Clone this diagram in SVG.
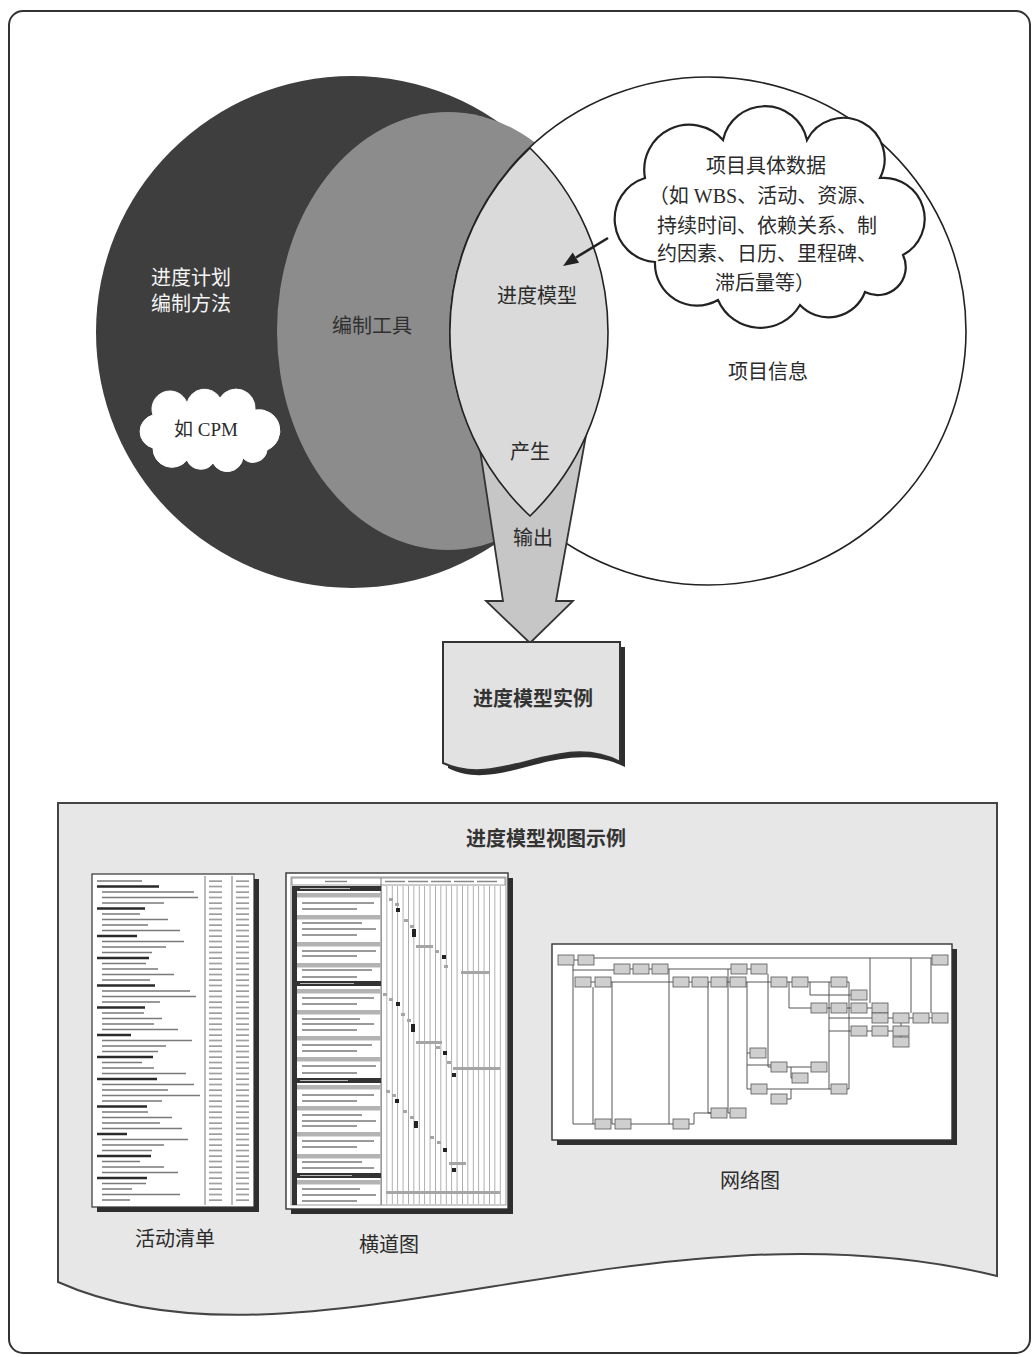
<svg xmlns="http://www.w3.org/2000/svg" width="1034" height="1357" viewBox="0 0 1034 1357">
<defs>
<style>
.t{font-family:'Liberation Serif','Noto Sans CJK SC',serif;font-size:20px;fill:#2b2b2b;text-anchor:middle}
.tw{fill:#f4f4f4}
.tb{font-family:'Liberation Sans','Noto Sans CJK SC',sans-serif;font-weight:bold;font-size:20px;fill:#333;text-anchor:middle}
.shadow{fill:#2e2e2e}
.nb{fill:#cfcfcf;stroke:#555;stroke-width:0.8}
.nl{fill:none;stroke:#444;stroke-width:0.9}
.hd{fill:none;stroke:#2a2a2a;stroke-width:2.4}
.it{fill:none;stroke:#7a7a7a;stroke-width:1.5}
.gt{fill:none;stroke:#888;stroke-width:1.4}
.dk{fill:#333}
.md{fill:#b3b3b3}
.gl{fill:#a5a5a5}
.gd{fill:#222}
</style>
<pattern id="colv" patternUnits="userSpaceOnUse" x="205" y="880" width="48" height="5.5">
<rect x="4" y="0.4" width="13" height="1.4" fill="#8a8a8a"/>
<rect x="31" y="0.4" width="13" height="1.4" fill="#8a8a8a"/>
</pattern>
<pattern id="vgrid" patternUnits="userSpaceOnUse" x="381" y="0" width="5.4" height="10">
<rect x="0" y="0" width="0.7" height="10" fill="#8c8c8c"/>
</pattern>
</defs>

<rect id="frame" x="9" y="11" width="1021" height="1342" rx="14" fill="#fff" stroke="#333" stroke-width="2"/>

<g id="venn">
<g id="method"><circle cx="352" cy="332" r="256" fill="#3e3e3e"/></g>
<g id="tool"><ellipse cx="448" cy="331" rx="171" ry="219" fill="#8c8c8c"/></g>
<g id="projectinfo"><ellipse cx="708" cy="331" rx="258" ry="254" fill="#fff" stroke="#222" stroke-width="1.6"/></g>
</g>

<g id="output-arrow">
<polygon points="477,430 587,430 556,601 573,601 530,643 486,601 503,601" fill="#c6c6c6" stroke="#333" stroke-width="1.8"/>
</g>

<g id="model"><path d="M530,148 A258,254 0 0 0 530,516 A256,256 0 0 0 530,148 Z" fill="#dadada" stroke="#222" stroke-width="1.6"/></g>

<g id="cloud-data">
<path d="M723,140 A43,43 0 0 1 807,140 A41,41 0 0 1 880,178 A41,41 0 0 1 903,255 A28,28 0 0 1 865,292 A39,39 0 0 1 800,305 A46,46 0 0 1 718,300 A42,42 0 0 1 655,262 A43,43 0 0 1 645,178 A45,45 0 0 1 723,140 Z" fill="#fff" stroke="#222" stroke-width="2.2"/>
<text class="t" x="766" y="173">项目具体数据</text>
<text class="t" x="763" y="203">（如 WBS、活动、资源、</text>
<text class="t" x="767" y="233">持续时间、依赖关系、制</text>
<text class="t" x="767" y="261">约因素、日历、里程碑、</text>
<text class="t" x="765" y="290">滞后量等）</text>
</g>

<g id="cloud-cpm">
<path d="M153,415 A18,18 0 0 1 187,403 A18,18 0 0 1 220,398 A19,19 0 0 1 255,410 A21,21 0 0 1 267,450 A14,14 0 0 1 243,458 A16,16 0 0 1 213,463 A15,15 0 0 1 187,460 A19,19 0 0 1 153,448 A17,17 0 0 1 153,415 Z" fill="#fff" stroke="#fff" stroke-width="1"/>
<text class="t" x="206" y="436" style="font-size:19px">如 CPM</text>
</g>

<g id="labels">
<text class="t tw" x="191" y="285">进度计划</text>
<text class="t tw" x="191" y="311">编制方法</text>
<text class="t" x="372" y="333" style="fill:#303030">编制工具</text>
<text class="t" x="537" y="303">进度模型</text>
<text class="t" x="768" y="379">项目信息</text>
<text class="t" x="530" y="459">产生</text>
<text class="t" x="533" y="545">输出</text>
</g>

<g id="instance">
<path d="M448,647 H625 V767 C560,735 500,795 448,768 Z" class="shadow"/>
<path d="M443,642 H620 V762 C560,730 500,790 443,763 Z" fill="#e2e2e2" stroke="#333" stroke-width="2"/>
<text class="tb" x="533" y="706">进度模型实例</text>
</g>

<g id="views">
<path d="M58,803 H997 V1276 C650,1190 300,1390 58,1282 Z" fill="#e7e7e7" stroke="#444" stroke-width="2"/>
<text class="tb" x="546" y="846">进度模型视图示例</text>

<g id="activity-list">
<rect class="shadow" x="97" y="879" width="162" height="333"/>
<rect x="92" y="874" width="162" height="333" fill="#fff" stroke="#333" stroke-width="1.2"/>
<line x1="205" y1="876" x2="205" y2="1205" stroke="#555" stroke-width="0.8"/>
<line x1="232" y1="876" x2="232" y2="1205" stroke="#555" stroke-width="0.8"/>
<rect x="206" y="879" width="47" height="324" fill="url(#colv)"/>
<path class="it" d="M97 881h45"/>
<path class="hd" d="M97 886.5h62M97 908.5h48M97 936h40M97 958h52M97 985.5h58M97 1007.5h48M97 1035h34M97 1057h56M97 1079h60M97 1106.5h50M97 1134h30M97 1156h54M97 1178h50"/>
<path class="it" d="M102 892h92M102 897.5h96M102 903h62M102 914h38M102 919.5h66M102 925h46M102 930.5h78M102 941.5h82M102 947h64M102 952.5h50M102 963.5h44M102 969h56M102 974.5h72M102 980h48M102 991h88M102 996.5h94M102 1002h58M102 1013h42M102 1018.5h60M102 1024h52M102 1029.5h76M102 1040.5h90M102 1046h64M102 1051.5h56M102 1062.5h40M102 1068h52M102 1073.5h84M102 1084.5h92M102 1090h66M102 1095.5h98M102 1101h60M102 1112h46M102 1117.5h70M102 1123h58M102 1128.5h80M102 1139.5h86M102 1145h62M102 1150.5h50M102 1161.5h38M102 1167h62M102 1172.5h76M102 1183.5h44M102 1189h30M102 1194.5h78M102 1200h28"/>
<text class="t" x="175" y="1246">活动清单</text>
</g>

<g id="gantt">
<rect class="shadow" x="291" y="878" width="222" height="336"/>
<rect x="286" y="873" width="222" height="336" fill="#fff" stroke="#333" stroke-width="1.4"/>
<rect x="291" y="877" width="215" height="328" fill="#fff" stroke="#999" stroke-width="1"/>
<rect x="292" y="878" width="213" height="7" fill="#fff" stroke="#555" stroke-width="0.6"/>
<line x1="381" y1="878" x2="381" y2="1205" stroke="#555" stroke-width="0.8"/>
<path class="gt" d="M325 881.5h22M385 881.5h20M408 881.5h20M431 881.5h20M454 881.5h20M477 881.5h20"/>
<rect x="381" y="886" width="124" height="318" fill="url(#vgrid)"/>
<rect x="292" y="886" width="5" height="319" class="dk"/>
<rect class="dk" x="297" y="886" width="84" height="5"/>
<rect class="dk" x="297" y="981" width="84" height="5"/>
<rect class="dk" x="297" y="1078" width="84" height="5"/>
<rect class="dk" x="297" y="1173" width="84" height="5"/>
<path fill="none" stroke="#bbb" stroke-width="1.2" d="M300 888.5h50M300 983.5h54M300 1080.5h48M300 1175.5h52"/>
<g class="md">
<rect x="297" y="893" width="84" height="4.5"/><rect x="297" y="915" width="84" height="4.5"/><rect x="297" y="942" width="84" height="4.5"/><rect x="297" y="963" width="84" height="4.5"/><rect x="297" y="989" width="84" height="4.5"/><rect x="297" y="1010" width="84" height="4.5"/><rect x="297" y="1036" width="84" height="4.5"/><rect x="297" y="1057" width="84" height="4.5"/><rect x="297" y="1085" width="84" height="4.5"/><rect x="297" y="1106" width="84" height="4.5"/><rect x="297" y="1132" width="84" height="4.5"/><rect x="297" y="1154" width="84" height="4.5"/><rect x="297" y="1180" width="84" height="4.5"/>
</g>
<path class="it" stroke-width="1.2" d="M302 903h72M302 909h55M302 923h60M302 929h74M302 935h55M302 951h74M302 956h55M302 970h70M302 977h55M302 998h72M302 1004h55M302 1019h58M302 1024h72M302 1030h55M302 1045h70M302 1051h55M302 1066h74M302 1073h55M302 1095h72M302 1101h55M302 1115h60M302 1121h74M302 1126h55M302 1141h72M302 1147h55M302 1162h60M302 1168h72M302 1189h58M302 1195h74M302 1201h55"/>
<g class="gl">
<rect x="389" y="898" width="4" height="3"/><rect x="395" y="903" width="4" height="3"/>
<rect x="404" y="919" width="4" height="3"/><rect x="410" y="925" width="4" height="3"/>
<rect x="416" y="945" width="17" height="3"/><rect x="435" y="950" width="4" height="3"/>
<rect x="444" y="965" width="4" height="3"/><rect x="461" y="971" width="29" height="3"/>
<rect x="383" y="993" width="4" height="3"/><rect x="389" y="998" width="4" height="3"/>
<rect x="401" y="1013" width="4" height="3"/><rect x="407" y="1019" width="4" height="3"/>
<rect x="416" y="1041" width="26" height="3"/><rect x="436" y="1046" width="4" height="3"/>
<rect x="447" y="1061" width="4" height="3"/><rect x="453" y="1067" width="47" height="3"/>
<rect x="386" y="1090" width="4" height="3"/><rect x="392" y="1094" width="4" height="3"/>
<rect x="403" y="1110" width="4" height="3"/><rect x="410" y="1116" width="4" height="3"/>
<rect x="430" y="1136" width="4" height="3"/><rect x="437" y="1141" width="4" height="3"/>
<rect x="449" y="1162" width="17" height="3"/>
<rect x="386" y="1191" width="114" height="3"/>
</g>
<g class="gd">
<rect x="396" y="908" width="4" height="4"/><rect x="412" y="929" width="4" height="8"/><rect x="442" y="955" width="4" height="4"/>
<rect x="396" y="1002" width="4" height="4"/><rect x="411" y="1024" width="4" height="8"/><rect x="443" y="1051" width="4" height="4"/><rect x="452" y="1073" width="4" height="4"/>
<rect x="395" y="1099" width="4" height="4"/><rect x="414" y="1121" width="4" height="7"/><rect x="443" y="1148" width="4" height="4"/><rect x="452" y="1168" width="4" height="4"/>
</g>
<text class="t" x="389" y="1252">横道图</text>
</g>

<g id="network">
<rect class="shadow" x="557" y="949" width="400" height="196"/>
<rect x="552" y="944" width="400" height="196" fill="#fff" stroke="#333" stroke-width="1.4"/>
<path class="nl" d="M594 958H932M574 960H578M573 965V1124H595M573 970H614M630 969H633M649 969H652M668 969H731M747 969H751M669 969V1124M591 982H595M593 987V1124M611 982H673M612 982V1124H615M631 1124H673M689 982H692M708 982H711M727 982H730M708 982V1113H711M728 969V1113H730M689 1124H694V1113H711M746 982H771M747 982V1089H751M747 1065H771M747 1053H750M767 1089H831M768 974V1067H771M787 982H792M789 982V1008H811M808 982H831M810 982V995H851M829 982V1089M829 1018H872M829 1031H851M827 1008H831M847 1008H851M867 1008H872M847 982H849M849 982V1089H847M787 1067H811M791 1067V1078H792M787 1099H791V1089M870 958V1003M888 1018H893M909 1018H913M929 1018H932M911 958V1013M931 958V1013M867 1031H872M888 1031H893M901 1023V1026M901 1036V1037"/>
<g class="nb">
<rect x="558" y="955" width="16" height="10"/><rect x="578" y="955" width="16" height="10"/><rect x="932" y="955" width="16" height="10"/>
<rect x="614" y="964" width="16" height="10"/><rect x="633" y="964" width="16" height="10"/><rect x="652" y="964" width="16" height="10"/><rect x="731" y="964" width="16" height="10"/><rect x="751" y="964" width="16" height="10"/>
<rect x="575" y="977" width="16" height="10"/><rect x="595" y="977" width="16" height="10"/><rect x="673" y="977" width="16" height="10"/><rect x="692" y="977" width="16" height="10"/><rect x="711" y="977" width="16" height="10"/><rect x="730" y="977" width="16" height="10"/><rect x="771" y="977" width="16" height="10"/><rect x="792" y="977" width="16" height="10"/><rect x="831" y="977" width="16" height="10"/>
<rect x="851" y="990" width="16" height="10"/>
<rect x="811" y="1003" width="16" height="10"/><rect x="831" y="1003" width="16" height="10"/><rect x="851" y="1003" width="16" height="10"/><rect x="872" y="1003" width="16" height="10"/>
<rect x="872" y="1013" width="16" height="10"/><rect x="893" y="1013" width="16" height="10"/><rect x="913" y="1013" width="16" height="10"/><rect x="932" y="1013" width="16" height="10"/>
<rect x="851" y="1026" width="16" height="10"/><rect x="872" y="1026" width="16" height="10"/><rect x="893" y="1026" width="16" height="10"/>
<rect x="893" y="1037" width="16" height="10"/>
<rect x="750" y="1048" width="16" height="10"/>
<rect x="771" y="1062" width="16" height="10"/><rect x="811" y="1062" width="16" height="10"/>
<rect x="792" y="1073" width="16" height="10"/>
<rect x="751" y="1084" width="16" height="10"/><rect x="831" y="1084" width="16" height="10"/>
<rect x="771" y="1094" width="16" height="10"/>
<rect x="711" y="1108" width="16" height="10"/><rect x="730" y="1108" width="16" height="10"/>
<rect x="595" y="1119" width="16" height="10"/><rect x="615" y="1119" width="16" height="10"/><rect x="673" y="1119" width="16" height="10"/>
</g>
<text class="t" x="750" y="1188">网络图</text>
</g>
</g>

<g id="connectors">
<line x1="608" y1="238" x2="576" y2="257.5" stroke="#222" stroke-width="2.6"/>
<polygon points="563,266 572.7,252.5 579.1,262.7" fill="#222"/>
</g>
</svg>
